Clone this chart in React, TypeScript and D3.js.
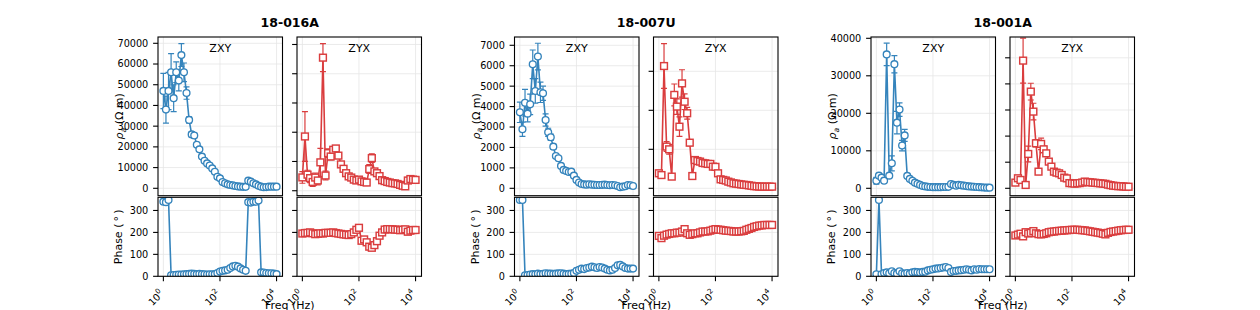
import React from 'react';
import * as d3 from 'd3';

// ---------------- DATA ----------------
const FREQS = [
  1, 1.233, 1.52, 1.874, 2.31, 2.848, 3.511, 4.329, 5.337, 6.579, 8.111,
  10, 12.33, 15.2, 18.74, 23.1, 28.48, 35.11, 43.29, 53.37, 65.79, 81.11,
  100, 123.3, 152, 187.4, 231, 284.8, 351.1, 432.9, 533.7, 657.9, 811.1,
  1000, 1233, 1520, 1874, 2310, 2848, 3511, 4329, 5337, 6579, 8111, 10000,
];

const STATIONS = ['18-016A', '18-007U', '18-001A'];
const MODES = ['ZXY', 'ZYX'];

// 18-016A
const rhoXY_016A = [47000, 38000, 47000, 56000, 43500, 56000, 52000, 64300, 56000, 46000, 33000, 26000, 25500, 21000, 18800, 15300, 13300, 12000, 11000, 9600, 8000, 5600, 4800, 3000, 2400, 1900, 1600, 1400, 1100, 900, 800, 700, 700, 3700, 3200, 2400, 1900, 1200, 800, 500, 600, 800, 800, 800, 800];
const errXY_016A = [8500, 6500, 9000, 9000, 6500, 5000, 5000, 5500, 4500, 3000, 1500, 1200, 1200, 800, 600, 500, 400, 400, 300, 300, 300, 300, 200, 200, 200, 200, 200, 200, 200, 200, 200, 200, 200, 300, 300, 200, 200, 200, 200, 200, 200, 200, 200, 200, 200];
const rhoYX_016A = [4550, 18550, 5500, 4300, 3000, 4500, 3500, 9700, 45500, 5200, 12860, 11700, 14000, 14450, 12000, 9000, 7500, 6000, 4900, 4500, 3800, 3500, 3800, 3200, 3000, 2800, 7400, 11150, 6600, 6000, 5000, 3600, 3300, 3000, 2800, 2600, 2500, 2300, 2000, 1700, 1500, 3500, 4000, 3800, 3700];
const errYX_016A = [2000, 8500, 1500, 1500, 1500, 1500, 1500, 4800, 4800, 1500, 1500, 1200, 1000, 1000, 800, 600, 500, 400, 400, 300, 300, 300, 300, 300, 300, 300, 1500, 1500, 800, 500, 400, 300, 300, 300, 300, 300, 300, 300, 300, 300, 300, 300, 300, 300, 300];
const phXY_016A = [340, 338, 348, 5, 6, 7, 8, 8, 9, 10, 11, 12, 11, 10, 11, 10, 9, 8, 9, 9, 10, 15, 22, 25, 27, 30, 38, 45, 48, 44, 36, 30, 25, 338, 336, 340, 340, 345, 18, 17, 15, 14, 14, 12, 10];
const phYX_016A = [195, 197, 198, 200, 196, 192, 194, 196, 195, 198, 198, 198, 200, 197, 195, 193, 191, 190, 188, 192, 200, 212, 221, 162, 168, 155, 135, 130, 142, 160, 185, 200, 213, 215, 215, 214, 213, 212, 210, 212, 214, 203, 208, 211, 211];

// 18-007U
const rhoXY_007U = [3720, 2890, 4190, 3655, 4110, 6070, 4765, 6450, 4700, 4650, 3345, 2740, 2500, 2040, 1580, 1470, 1095, 900, 850, 800, 815, 620, 410, 280, 210, 190, 180, 200, 180, 170, 160, 160, 170, 180, 160, 150, 160, 150, 115, 50, 80, 100, 160, 150, 115];
const errXY_007U = [500, 350, 650, 400, 500, 700, 600, 650, 500, 350, 300, 200, 150, 120, 100, 80, 60, 50, 50, 50, 50, 40, 30, 30, 30, 20, 20, 20, 20, 20, 20, 20, 20, 20, 20, 20, 20, 20, 20, 20, 20, 20, 20, 20, 20];
const rhoYX_007U = [770, 680, 6270, 2140, 2000, 600, 4790, 4190, 3160, 5380, 4440, 3850, 2340, 630, 1450, 1400, 1370, 1300, 1280, 1250, 1250, 1110, 1100, 770, 460, 430, 400, 340, 300, 256, 240, 220, 200, 180, 170, 150, 130, 110, 100, 90, 85, 85, 85, 85, 85];
const errYX_007U = [150, 100, 1150, 250, 250, 100, 560, 400, 500, 700, 400, 300, 150, 80, 80, 70, 60, 60, 50, 50, 50, 50, 40, 40, 30, 30, 30, 30, 30, 30, 30, 30, 30, 30, 30, 30, 30, 30, 30, 30, 30, 30, 30, 30, 30];
const phXY_007U = [348, 348, 5, 6, 8, 10, 9, 12, 10, 11, 14, 12, 12, 11, 12, 13, 14, 12, 10, 11, 12, 15, 25, 30, 35, 33, 38, 40, 44, 41, 38, 42, 40, 35, 30, 27, 30, 38, 50, 52, 45, 38, 35, 35, 35];
const phYX_007U = [184, 174, 185, 190, 193, 196, 196, 199, 199, 204, 215, 196, 189, 192, 196, 196, 200, 204, 204, 205, 208, 212, 215, 213, 212, 210, 208, 207, 206, 204, 204, 204, 205, 207, 212, 216, 220, 225, 228, 231, 232, 234, 234, 234, 234];

// 18-001A
const rhoXY_001A = [2040, 3380, 2840, 2040, 35700, 3380, 6670, 33100, 17500, 21000, 11400, 14100, 3300, 2500, 2000, 1500, 1200, 900, 620, 500, 400, 350, 300, 300, 300, 300, 350, 350, 400, 1150, 900, 700, 900, 800, 700, 600, 500, 450, 400, 350, 300, 250, 200, 180, 180];
const errXY_001A = [900, 500, 400, 400, 3000, 400, 2000, 2300, 3000, 1800, 1400, 1600, 500, 300, 200, 150, 100, 100, 100, 100, 100, 100, 100, 100, 100, 100, 100, 100, 100, 100, 100, 100, 100, 100, 100, 100, 100, 100, 100, 100, 100, 100, 100, 100, 100];
const rhoYX_001A = [1090, 1920, 1600, 24460, 640, 6580, 18520, 14690, 8620, 3190, 8500, 7470, 6700, 5110, 4150, 3190, 3000, 2870, 2550, 2040, 1900, 1000, 960, 900, 950, 1000, 1100, 1280, 1200, 1150, 1100, 1050, 1000, 950, 900, 850, 700, 600, 500, 450, 400, 400, 350, 300, 300];
const errYX_001A = [400, 400, 400, 4300, 300, 1500, 1600, 1600, 700, 300, 1100, 600, 500, 400, 300, 200, 200, 200, 200, 200, 200, 150, 150, 150, 150, 150, 150, 150, 150, 150, 150, 150, 150, 150, 150, 150, 150, 150, 150, 150, 150, 150, 150, 150, 150];
const phXY_001A = [9, 348, 9, 15, 18, 14, 23, 15, 12, 23, 14, 12, 15, 12, 18, 20, 19, 17, 20, 21, 27, 30, 32, 35, 36, 38, 40, 42, 38, 20, 24, 25, 27, 28, 30, 32, 30, 27, 32, 30, 33, 32, 32, 32, 32];
const phYX_001A = [186, 190, 194, 182, 201, 195, 198, 206, 196, 192, 191, 193, 196, 201, 203, 204, 206, 207, 208, 209, 210, 211, 212, 212, 212, 211, 210, 209, 207, 205, 203, 201, 199, 197, 194, 191, 198, 202, 204, 206, 208, 210, 211, 212, 212];

// tick values
const RHO_TICKS_XY_016A = [0, 10000, 20000, 30000, 40000, 50000, 60000, 70000];
const RHO_TICKS_YX_016A = [0, 10000, 20000, 30000, 40000, 50000];
const RHO_TICKS_XY_007U = [0, 1000, 2000, 3000, 4000, 5000, 6000, 7000];
const RHO_TICKS_YX_007U = [0, 2000, 4000, 6000];
const RHO_TICKS_XY_001A = [0, 10000, 20000, 30000, 40000];
const RHO_TICKS_YX_001A = [0, 5000, 10000, 15000, 20000, 25000];
const PHASE_TICKS = [0, 100, 200, 300];
const FREQ_TICKS = [1, 100, 10000];
const FREQ_TICK_EXP = ['0', '2', '4'];

// ---------------- LAYOUT ----------------
const W = 1260;
const H = 310;
const GROUP_LEFT = [158, 514.5, 871];
const PAIR_OFFSET = 139;
const PANEL_W = 124.5;
const RHO_TOP = 37;
const RHO_BOT = 195.7;
const PH_TOP = 197.3;
const PH_BOT = 276.3;
const X_DOMAIN: [number, number] = [Math.pow(10, -0.19), Math.pow(10, 4.21)];
const PH_DOMAIN: [number, number] = [0, 360];
const FONT = "'DejaVu Sans', sans-serif";
const BLUE = '#3584bc';
const RED = '#da3d3e';
const GRID = '#e6e6e6';
const TICK_LEN = 4.9;

const STATION_DATA = [
  {
    rho: [rhoXY_016A, rhoYX_016A], err: [errXY_016A, errYX_016A], ph: [phXY_016A, phYX_016A],
    rhoTicks: [RHO_TICKS_XY_016A, RHO_TICKS_YX_016A],
    rhoDomain: [[-3572, 73041], [-1700, 52560]],
  },
  {
    rho: [rhoXY_007U, rhoYX_007U], err: [errXY_007U, errYX_007U], ph: [phXY_007U, phYX_007U],
    rhoTicks: [RHO_TICKS_XY_007U, RHO_TICKS_YX_007U],
    rhoDomain: [[-362, 7406], [-379, 7759]],
  },
  {
    rho: [rhoXY_001A, rhoYX_001A], err: [errXY_001A, errYX_001A], ph: [phXY_001A, phYX_001A],
    rhoTicks: [RHO_TICKS_XY_001A, RHO_TICKS_YX_001A],
    rhoDomain: [[-1973, 40347], [-1418, 28985]],
  },
];

type PanelProps = {
  id: string;
  left: number;
  top: number;
  bottom: number;
  yDomain: [number, number];
  yTicks: number[];
  showYLabels: boolean;
  values: number[];
  errs?: number[];
  color: string;
  marker: 'circle' | 'square';
  label?: string;
  xLabels: boolean;
};

function Panel(p: PanelProps) {
  const x = d3.scaleLog().domain(X_DOMAIN).range([p.left, p.left + PANEL_W]);
  const y = d3.scaleLinear().domain(p.yDomain).range([p.bottom, p.top]);
  const n = Math.min(FREQS.length, p.values.length);
  const pts = d3.range(n).map((i) => [x(FREQS[i]), y(p.values[i])] as [number, number]);
  const line = d3.line();
  const cap = 3;
  const sq = 6.8;
  return (
    <g>
      <defs>
        <clipPath id={p.id}>
          <rect x={p.left} y={p.top} width={PANEL_W} height={p.bottom - p.top} />
        </clipPath>
      </defs>
      {/* grid */}
      <g stroke={GRID} strokeWidth={0.8}>
        {FREQ_TICKS.map((t, i) => (
          <line key={'gx' + i} x1={x(t)} x2={x(t)} y1={p.top} y2={p.bottom} />
        ))}
        {p.yTicks.map((t, i) => (
          <line key={'gy' + i} x1={p.left} x2={p.left + PANEL_W} y1={y(t)} y2={y(t)} />
        ))}
      </g>
      <g clipPath={`url(#${p.id})`}>
        {p.errs && (
          <g stroke={p.color} strokeWidth={1.2} fill="none">
            {d3.range(n).map((i) => {
              const cx = x(FREQS[i]);
              const lo = y(p.values[i] - p.errs![i]);
              const hi = y(p.values[i] + p.errs![i]);
              return (
                <g key={'e' + i}>
                  <line x1={cx} x2={cx} y1={lo} y2={hi} />
                  <line x1={cx - cap} x2={cx + cap} y1={lo} y2={lo} />
                  <line x1={cx - cap} x2={cx + cap} y1={hi} y2={hi} />
                </g>
              );
            })}
          </g>
        )}
        <path d={line(pts) || ''} fill="none" stroke={p.color} strokeWidth={1.6} />
        {pts.map((q, i) =>
          p.marker === 'circle' ? (
            <circle key={'m' + i} cx={q[0]} cy={q[1]} r={3.4} fill="white" stroke={p.color} strokeWidth={1.35} />
          ) : (
            <rect key={'m' + i} x={q[0] - sq / 2} y={q[1] - sq / 2} width={sq} height={sq} fill="white" stroke={p.color} strokeWidth={1.45} />
          )
        )}
      </g>
      {/* frame */}
      <rect x={p.left} y={p.top} width={PANEL_W} height={p.bottom - p.top} fill="none" stroke="black" strokeWidth={1.1} />
      {/* y ticks */}
      {p.yTicks.map((t, i) => (
        <g key={'yt' + i}>
          <line x1={p.left - TICK_LEN} x2={p.left} y1={y(t)} y2={y(t)} stroke="black" strokeWidth={1.1} />
          {p.showYLabels && (
            <text x={p.left - 9.7} y={y(t)} dy="0.35em" textAnchor="end" fontSize={9.7} fontFamily={FONT} fill="#000">
              {String(t)}
            </text>
          )}
        </g>
      ))}
      {/* x ticks */}
      {p.xLabels &&
        FREQ_TICKS.map((t, i) => (
          <g key={'xt' + i}>
            <line x1={x(t)} x2={x(t)} y1={p.bottom} y2={p.bottom + TICK_LEN} stroke="black" strokeWidth={1.1} />
            <text
              transform={`translate(${x(t) + 1},${p.bottom + 18}) rotate(-45)`}
              textAnchor="end"
              fontSize={9.7}
              fontFamily={FONT}
              fill="#000"
            >
              10
              <tspan fontSize={7.2} dy={-4.3}>
                {FREQ_TICK_EXP[i]}
              </tspan>
            </text>
          </g>
        ))}
      {p.label && (
        <text x={p.left + PANEL_W / 2} y={51.7} textAnchor="middle" fontSize={11} fontFamily={FONT} fill="#000">
          {p.label}
        </text>
      )}
    </g>
  );
}

export default function App() {
  return (
    <svg
      width={W}
      height={H}
      style={{ position: 'absolute', left: 0, top: 0, background: 'white' }}
      xmlns="http://www.w3.org/2000/svg"
    >
      <rect x={0} y={0} width={W} height={H} fill="white" />
      {STATIONS.map((name, s) => {
        const sd = STATION_DATA[s];
        const gl = GROUP_LEFT[s];
        const center = (gl + gl + PAIR_OFFSET + PANEL_W) / 2;
        return (
          <g key={name}>
            <text x={center} y={27} textAnchor="middle" fontSize={12.5} fontWeight="bold" fontFamily={FONT} fill="#000">
              {name}
            </text>
            {MODES.map((mode, m) => {
              const left = gl + m * PAIR_OFFSET;
              const color = m === 0 ? BLUE : RED;
              const marker = m === 0 ? 'circle' : 'square';
              return (
                <g key={mode}>
                  <Panel
                    id={`rho-${s}-${m}`}
                    left={left}
                    top={RHO_TOP}
                    bottom={RHO_BOT}
                    yDomain={sd.rhoDomain[m] as [number, number]}
                    yTicks={sd.rhoTicks[m]}
                    showYLabels={m === 0}
                    values={sd.rho[m]}
                    errs={sd.err[m]}
                    color={color}
                    marker={marker}
                    label={mode}
                    xLabels={false}
                  />
                  <Panel
                    id={`ph-${s}-${m}`}
                    left={left}
                    top={PH_TOP}
                    bottom={PH_BOT}
                    yDomain={PH_DOMAIN}
                    yTicks={PHASE_TICKS}
                    showYLabels={m === 0}
                    values={sd.ph[m]}
                    color={color}
                    marker={marker}
                    xLabels={true}
                  />
                </g>
              );
            })}
            {/* y labels */}
            <text
              transform={`translate(${gl - 35},${(RHO_TOP + RHO_BOT) / 2}) rotate(-90)`}
              textAnchor="middle"
              fontSize={11}
              fontFamily={FONT}
              fill="#000"
            >
              <tspan fontStyle="italic">ρ</tspan>
              <tspan fontSize={7.7} dy={2.5} fontStyle="italic">a</tspan>
              <tspan dy={-2.5}>{' (Ω m)'}</tspan>
            </text>
            <text
              transform={`translate(${gl - 36},${(PH_TOP + PH_BOT) / 2}) rotate(-90)`}
              textAnchor="middle"
              fontSize={11}
              fontFamily={FONT}
              fill="#000"
            >
              {'Phase (\u2009°\u2009)'}
            </text>
            <text x={center} y={308.5} textAnchor="middle" fontSize={11} fontFamily={FONT} fill="#000">
              Freq (Hz)
            </text>
          </g>
        );
      })}
    </svg>
  );
}
